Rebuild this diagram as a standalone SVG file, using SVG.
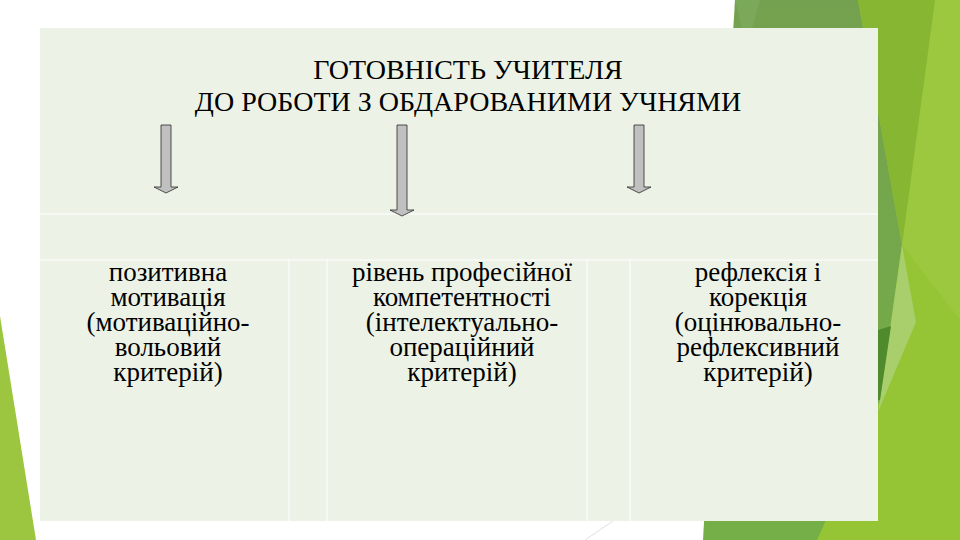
<svg xmlns="http://www.w3.org/2000/svg" width="960" height="540" viewBox="0 0 960 540">
  <defs>
    <style>
      .t { fill: #000; text-anchor: middle; font-family: "Liberation Serif", "Times New Roman", serif; }
      .title { font-size: 28px; }
      .body { font-size: 27px; }
      .arrow { fill: #C0C0C0; stroke: #2a2a2a; stroke-width: 0.8; }
      .grid { stroke: #FFFFFF; stroke-width: 1; fill: none; }
    </style>
    <linearGradient id="band" x1="0" y1="0" x2="0" y2="1">
      <stop offset="0" stop-color="#74A14F"/>
      <stop offset="1" stop-color="#75AF47"/>
    </linearGradient>
  </defs>

  <rect x="0" y="0" width="960" height="540" fill="#FFFFFF"/>

  <g id="decor">
    <polygon points="0,316 36,540 0,540" fill="#9CC63F"/>
    <polygon points="858,0 960,0 960,540 815,540" fill="#95C434"/>
    <polygon points="935,0 960,0 960,320 902,245" fill="#9CC83F"/>
    <polygon points="735,0 858,0 902,245 880,400 817,540 703,540" fill="url(#band)"/>
    <polygon points="735,0 760,0 752,28 742,28" fill="#7BA95A"/>
    <polygon points="858,0 935,0 902,245" fill="#87B633"/>
    <polygon points="902,245 916,322 878,412 880,400" fill="#A8CF6B"/>
    <polygon points="878,330 891,326 880,400 878,400" fill="#4F8B2C"/>
    <line x1="585" y1="540" x2="613" y2="521" stroke="#D8D8D8" stroke-width="0.8"/>
  </g>

  <g id="panel">
    <rect x="40" y="28" width="838" height="493" fill="#EDF2E7"/>
    <line class="grid" x1="40" y1="214" x2="878" y2="214"/>
    <line class="grid" x1="40" y1="260" x2="878" y2="260"/>
    <line class="grid" x1="289" y1="260" x2="289" y2="521"/>
    <line class="grid" x1="327" y1="260" x2="327" y2="521"/>
    <line class="grid" x1="587" y1="260" x2="587" y2="521"/>
    <line class="grid" x1="630" y1="260" x2="630" y2="521"/>
  </g>

  <g id="title">
    <text class="t title" x="468" y="79">ГОТОВНІСТЬ УЧИТЕЛЯ<tspan x="468" dy="32">ДО РОБОТИ З ОБДАРОВАНИМИ УЧНЯМИ</tspan></text>
  </g>

  <g id="node-motivation">
    <text class="t body" x="168" y="281">позитивна<tspan x="168" dy="25">мотивація</tspan><tspan x="168" dy="25">(мотиваційно-</tspan><tspan x="168" dy="25">вольовий</tspan><tspan x="168" dy="25">критерій)</tspan></text>
  </g>

  <g id="node-competence">
    <text class="t body" x="462" y="281">рівень професійної<tspan x="462" dy="25">компетентності</tspan><tspan x="462" dy="25">(інтелектуально-</tspan><tspan x="462" dy="25">операційний</tspan><tspan x="462" dy="25">критерій)</tspan></text>
  </g>

  <g id="node-reflection">
    <text class="t body" x="758" y="281">рефлексія і<tspan x="758" dy="25">корекція</tspan><tspan x="758" dy="25">(оцінювально-</tspan><tspan x="758" dy="25">рефлексивний</tspan><tspan x="758" dy="25">критерій)</tspan></text>
  </g>

  <g id="connectors">
    <polygon class="arrow" points="161,125 171,125 171,187 178,187 166,193 154,187 161,187"/>
    <polygon class="arrow" points="397,125 407,125 407,210 414,210 402,216 390,210 397,210"/>
    <polygon class="arrow" points="634,125 644,125 644,187 651,187 639,193 627,187 634,187"/>
  </g>
</svg>
